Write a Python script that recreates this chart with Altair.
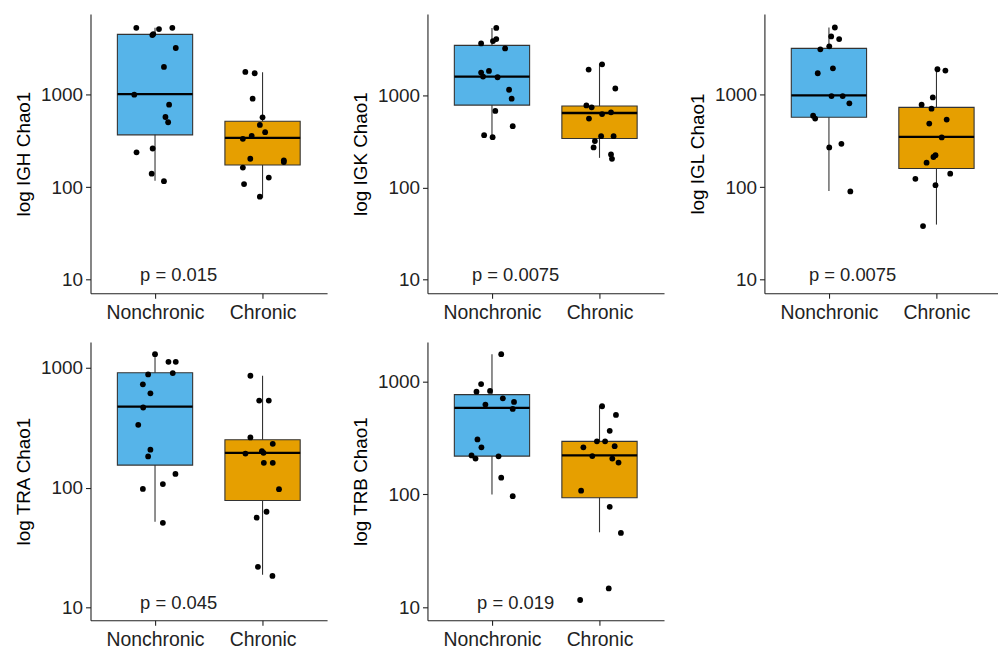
import altair as alt
import pandas as pd

groups = ["Nonchronic", "Chronic"]
fill_colors = ["#56B4E9", "#E69F00"]
y_ticks = [10, 100, 1000]

# ---------------- IGH ----------------
igh_non = [5290, 4415, 4530, 5130, 5290, 3200, 2000, 1000, 781, 574, 504, 262, 238, 140, 116]
igh_non_jit = [-0.174, -0.025, -0.016, 0.037, 0.161, 0.193, 0.083, -0.193, 0.131, 0.097, 0.122, -0.022, -0.172, -0.031, 0.083]
igh_chr = [1766, 1706, 906, 570, 471, 393, 359, 333, 203, 195, 187, 163, 108, 127, 79]
igh_chr_jit = [-0.160, -0.073, -0.092, 0.0, -0.025, 0.024, -0.101, -0.183, -0.114, 0.198, 0.198, -0.183, -0.172, 0.058, -0.025]
igh_box = {"lo": [117, 77], "q1": [368, 174], "med": [1016, 341], "q3": [4490, 516], "hi": [5290, 1750]}

# ---------------- IGK ----------------
igk_non = [5470, 4130, 3930, 3705, 3270, 1786, 1863, 1617, 1589, 1161, 929, 683, 466, 372, 354]
igk_non_jit = [0.040, 0.040, 0.009, -0.101, 0.122, -0.101, -0.028, -0.083, 0.052, 0.159, 0.183, 0.031, 0.193, -0.073, 0.006]
igk_chr = [2197, 1923, 1199, 785, 747, 564, 632, 660, 363, 363, 321, 274, 230, 206]
igk_chr_jit = [0.024, -0.101, 0.147, -0.122, -0.073, -0.098, 0.024, 0.107, 0.015, 0.131, -0.043, -0.055, 0.107, 0.116]
igk_box = {"lo": [354, 211], "q1": [791, 343], "med": [1617, 649], "q3": [3525, 772], "hi": [5470, 2250]}

# ---------------- IGL ----------------
igl_non = [5330, 4265, 3998, 3335, 3093, 1931, 1707, 966, 966, 806, 594, 552, 269, 294, 90]
igl_non_jit = [0.055, 0.021, 0.095, 0.003, -0.080, 0.037, -0.104, 0.024, 0.128, 0.190, -0.147, -0.128, 0.003, 0.116, 0.199]
igl_chr = [1885, 1823, 935, 780, 706, 538, 488, 345, 222, 212, 184, 123, 140, 105, 38]
igl_chr_jit = [0.009, 0.083, -0.034, -0.138, -0.046, 0.095, -0.067, 0.049, -0.009, -0.028, -0.092, -0.196, 0.128, -0.009, -0.125]
igl_box = {"lo": [91, 39.4], "q1": [570, 159], "med": [983, 350], "q3": [3170, 730], "hi": [5330, 1930]}

# ---------------- TRA ----------------
tra_non = [1299, 1121, 1121, 880, 903, 727, 612, 466, 334, 207, 182, 130, 107, 97.4, 50.8]
tra_non_jit = [0.0, 0.125, 0.193, -0.064, 0.165, -0.113, -0.043, -0.110, -0.156, -0.043, -0.064, 0.190, 0.073, -0.113, 0.073]
tra_chr = [858, 532, 532, 262, 232, 192, 201, 195, 161, 161, 96.9, 62.8, 56.0, 21.8, 18.3]
tra_chr_jit = [-0.113, -0.031, 0.058, -0.113, 0.095, -0.159, -0.006, 0.009, 0.012, 0.095, 0.153, 0.037, -0.055, -0.043, 0.092]
tra_box = {"lo": [51.9, 18.7], "q1": [154, 78], "med": [474, 195], "q3": [909, 251], "hi": [1299, 858]}

# ---------------- TRB ----------------
trb_non = [1755, 954, 816, 828, 713, 627, 662, 574, 308, 262, 222, 208, 218, 141, 96.6]
trb_non_jit = [0.086, -0.101, -0.144, -0.018, 0.101, -0.061, 0.205, 0.193, -0.135, -0.098, -0.190, -0.153, 0.061, 0.086, 0.193]
trb_chr = [606, 508, 367, 296, 296, 262, 268, 219, 208, 192, 108, 77.8, 45.6, 14.7, 11.6]
trb_chr_jit = [0.024, 0.153, 0.095, -0.024, 0.052, -0.150, 0.141, -0.067, 0.119, 0.177, -0.171, 0.095, 0.199, 0.086, -0.180]
trb_box = {"lo": [100, 46.2], "q1": [219, 93.5], "med": [586, 222], "q3": [768, 296], "hi": [1755, 614]}

p_labels = {"IGH": "p = 0.015", "IGK": "p = 0.0075", "IGL": "p = 0.0075", "TRA": "p = 0.045", "TRB": "p = 0.019"}

FONT = "Liberation Sans"
INK = "#222222"
LINE = "#333333"


def panel(name, non, non_jit, chr_, chr_jit, box, ydom, width, height, xmax=2.6):
    pts = pd.DataFrame({
        "grp": ["Nonchronic"] * len(non) + ["Chronic"] * len(chr_),
        "pos": [1] * len(non) + [2] * len(chr_),
        "jit": non_jit + chr_jit,
        "val": non + chr_,
    })
    bx = pd.DataFrame({"grp": groups, "pos": [1, 2], **box})
    lab = pd.DataFrame({"pos": [1.22], "val": [9.6], "txt": [p_labels[name]]})

    xscale = alt.Scale(domain=[0.4, xmax], nice=False, zero=False)
    yscale = alt.Scale(type="log", domain=ydom, nice=False, zero=False)
    xaxis = alt.Axis(values=[1, 2], labelExpr="datum.value == 1 ? 'Nonchronic' : 'Chronic'",
                     title=None, grid=False, labelFontSize=19.5, labelPadding=5)
    yaxis = alt.Axis(values=y_ticks, format="d", title=f"log {name} Chao1", grid=False)

    base_box = alt.Chart(bx).transform_calculate(
        xl="datum.pos - 0.35", xr="datum.pos + 0.35"
    )
    whisk = base_box.mark_rule(color=LINE, strokeWidth=1.1).encode(
        x=alt.X("pos:Q", scale=xscale, axis=xaxis),
        y=alt.Y("lo:Q", scale=yscale, axis=yaxis),
        y2="hi:Q",
    )
    rect = base_box.mark_bar(stroke=LINE, strokeWidth=1.1, opacity=1).encode(
        x=alt.X("xl:Q", scale=xscale),
        x2="xr:Q",
        y=alt.Y("q1:Q", scale=yscale),
        y2="q3:Q",
        color=alt.Color("grp:N", scale=alt.Scale(domain=groups, range=fill_colors), legend=None),
    )
    med = base_box.mark_rule(color="black", strokeWidth=2.3).encode(
        x=alt.X("xl:Q", scale=xscale),
        x2="xr:Q",
        y=alt.Y("med:Q", scale=yscale),
    )
    dots = alt.Chart(pts).transform_calculate(xp="datum.pos + datum.jit").mark_circle(
        color="black", size=34, opacity=1
    ).encode(
        x=alt.X("xp:Q", scale=xscale),
        y=alt.Y("val:Q", scale=yscale),
    )
    txt = alt.Chart(lab).mark_text(
        font=FONT, fontSize=18.5, color=INK, align="center", baseline="alphabetic"
    ).encode(
        x=alt.X("pos:Q", scale=xscale),
        y=alt.Y("val:Q", scale=yscale),
        text="txt:N",
    )
    return alt.layer(whisk, rect, med, dots, txt).properties(width=width, height=height)


p1 = panel("IGH", igh_non, igh_non_jit, igh_chr, igh_chr_jit, igh_box, [7.13, 7480], 238, 281)
p2 = panel("IGK", igk_non, igk_non_jit, igk_chr, igk_chr_jit, igk_box, [7.11, 7760], 238, 281)
p3 = panel("IGL", igl_non, igl_non_jit, igl_chr, igl_chr_jit, igl_box, [7.13, 7480], 235, 281,
           xmax=2.6 - 3 / 108.2)
p4 = panel("TRA", tra_non, tra_non_jit, tra_chr, tra_chr_jit, tra_box, [7.8, 1644], 238, 280)
p5 = panel("TRB", trb_non, trb_non_jit, trb_chr, trb_chr_jit, trb_box, [7.67, 2254], 238, 280)

row1 = alt.hconcat(p1, p2, p3, spacing=24)
row2 = alt.hconcat(p4, p5, spacing=24)

chart = alt.vconcat(row1, row2, spacing=20).properties(
    padding={"left": 6, "top": 4, "right": 0, "bottom": 0},
    background="white",
).configure_view(stroke=None).configure_axis(
    domainColor=INK, domainWidth=1.1, tickColor=INK, tickWidth=1.1, tickSize=5,
    labelFont=FONT, labelFontSize=19, labelColor=INK, labelPadding=3,
    titleFont=FONT, titleFontSize=19, titleColor="black", titleFontWeight="normal",
    titlePadding=7,
)

chart.save("out.html", embed_options={"renderer": "svg", "actions": False})
